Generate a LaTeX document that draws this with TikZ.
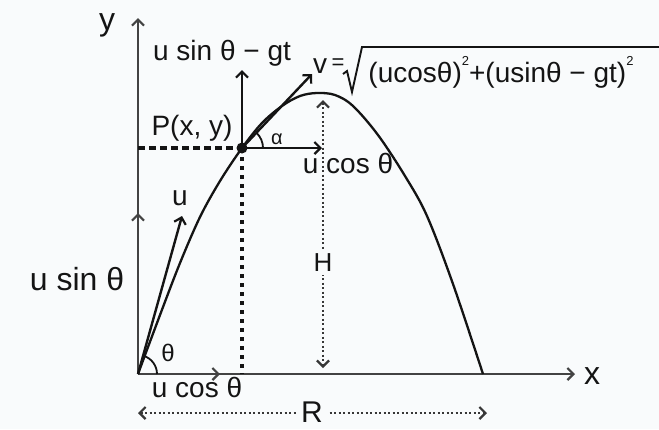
\documentclass[tikz,border=0pt]{standalone}
\usepackage{fontspec}
\setmainfont{Liberation Sans}
\usetikzlibrary{arrows.meta}
\definecolor{bg}{HTML}{F9FBFC}
\definecolor{ink}{HTML}{141414}
\tikzset{
  lbl/.style={font=\fontsize{28}{30}\selectfont, inner sep=0pt, text=ink},
  biglbl/.style={font=\fontsize{32}{34}\selectfont, inner sep=0pt, text=ink},
  chev/.style={-{Straight Barb[length=6pt,width=12pt,line width=2.2pt]}},
  dchev/.style={{Straight Barb[length=6pt,width=12pt,line width=2.2pt]}-{Straight Barb[length=6pt,width=12pt,line width=2.2pt]}},
  axisline/.style={line width=2.1pt, draw=ink!80},
  vecline/.style={line width=2.4pt, draw=ink},
  guidedash/.style={line width=3.6pt, draw=ink, dash pattern=on 7pt off 4pt},
  guidedot/.style={line width=3.6pt, draw=ink, dash pattern=on 4pt off 5pt},
  measline/.style={line width=2.2pt, draw=ink!85, dash pattern=on 2.2pt off 2.3pt},
}
\newcommand{\sq}{\raisebox{0.6em}{\fontsize{13}{13}\selectfont 2}}
\begin{document}
\begin{tikzpicture}[x=1pt,y=-1pt]
\fill[bg] (0,0) rectangle (659,429);
\useasboundingbox (0,0) rectangle (659,429);

% key points
\coordinate (O) at (138,374);
\coordinate (P) at (242,148);
\coordinate (Ytop) at (138,18);
\coordinate (Xend) at (575,374);
\coordinate (Uy) at (138,213);
\coordinate (Ux) at (220,374);
\coordinate (Utip) at (182,216);
\coordinate (Vtip) at (312,74);
\coordinate (Pup) at (242,70);
\coordinate (Pright) at (322,148);
\coordinate (Pfoot) at (242,374);
\coordinate (Yfoot) at (138,148);
\coordinate (Htop) at (323,100);
\coordinate (Hbot) at (323,368);
\coordinate (Rleft) at (138,413);
\coordinate (Rright) at (487,413);

% axes and initial components
\draw[axisline, chev] (O) -- (Ytop);
\draw[axisline, chev] (O) -- (Xend);
\draw[axisline, chev] (O) -- (Uy);
\draw[axisline, chev] (O) -- (Ux);
\draw[vecline, chev] (O) -- (Utip);

% trajectory
\draw[line width=2.3pt, draw=ink] plot[smooth, tension=0.55] coordinates {
  (138,374) (160,315) (180,263) (200,217) (220,181) (242,148) (262,123)
  (282,106) (300,96) (317,93) (335,95) (353,106) (378,135) (405,176)
  (427,216) (453,284) (483,374)};

% guides at P
\draw[guidedash] (Yfoot) -- (P);
\draw[guidedot] (P) -- (Pfoot);

% velocity components at P
\draw[vecline, chev] (P) -- (Vtip);
\draw[vecline, chev] (P) -- (Pup);
\draw[vecline, chev] (P) -- (Pright);
\fill[ink] (P) circle (5.5pt);

% angles
\draw[line width=1.8pt, draw=ink] (O) ++(19,0) arc[start angle=0, end angle=-74, radius=19];
\draw[line width=1.8pt, draw=ink] (P) ++(21,0) arc[start angle=0, end angle=-46, radius=21];

% H and R
\draw[measline, dchev] (Htop) -- (Hbot);
\draw[measline, dchev] (Rleft) -- (Rright);
\node[lbl, fill=bg, inner xsep=3pt, inner ysep=3pt, font=\fontsize{26}{28}\selectfont] (Hlab) at (323,263) {H};
\node[lbl, fill=bg, inner xsep=4pt, inner ysep=0pt, font=\fontsize{30}{32}\selectfont] (Rlab) at (312,412) {R};

% radical for v
\draw[line width=1.9pt, draw=ink, line join=miter] (343,74) -- (347,71) -- (352,92) -- (362,47) -- (659,47);

% labels
\node[biglbl, anchor=base] (ylab) at (107,30) {y};
\node[biglbl, anchor=base] (xlab) at (592,384) {x};
\node[biglbl, anchor=base] (usinlab) at (77,290) {u sin θ};
\node[lbl, anchor=base] (vylab) at (222,60) {u sin θ − gt};
\node[lbl, anchor=base] (Plab) at (192,135) {P(x, y)};
\node[lbl, anchor=base] (ulab) at (180,205) {u};
\node[lbl, font=\fontsize{24}{26}\selectfont] (thlab) at (168,353) {θ};
\node[lbl, anchor=base] (ucos1) at (197,397) {u cos θ};
\node[lbl, anchor=base] (ucos2) at (348,173) {u cos θ};
\node[lbl, font=\fontsize{20}{22}\selectfont] (alab) at (277,139) {α};
\node[lbl] (vlab) at (320,66) {v};
\node[lbl, font=\fontsize{22}{24}\selectfont] (eqlab) at (338,64) {=};
\node[lbl, anchor=base] (vexpr) at (501,82) {(ucosθ)\sq+(usinθ − gt)\sq};
\end{tikzpicture}
\end{document}
